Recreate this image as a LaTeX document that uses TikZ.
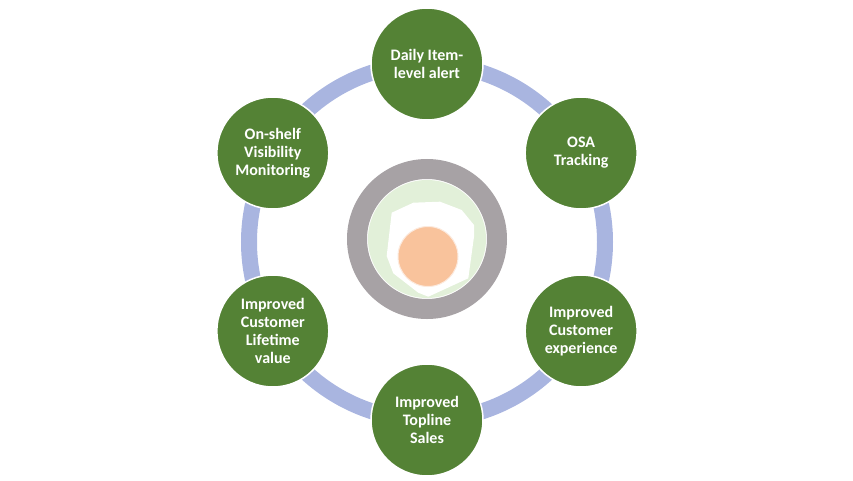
\documentclass[tikz,border=0pt]{standalone}
\usepackage{fontspec}
\setmainfont{Carlito}
\definecolor{leafgreen}{HTML}{548235}
\definecolor{ringblue}{HTML}{A9B5E0}
\definecolor{hubgray}{HTML}{A7A2A5}
\definecolor{palegreen}{HTML}{E2F0D9}
\definecolor{peach}{HTML}{F8CBAD}
\tikzset{
	stage/.style={circle, minimum size=112, inner sep=0pt, fill=leafgreen, draw=white, line width=1.5pt,
		text=white, align=center, font=\bfseries\fontsize{16}{18}\selectfont},
}
\begin{document}
\begin{tikzpicture}[x=1pt,y=1pt]
		\useasboundingbox (-427,-238) rectangle (426,242);
		\coordinate (hub) at (0,3);
		\coordinate (mid) at (0,0);
		
		% outer loop
		\draw[ringblue,line width=16pt] (mid) circle (178);
		
		% centre rings
		\draw[hubgray,line width=20pt] (hub) circle (70);
		\fill[palegreen] (hub) circle (59);
		\fill[white] (-35.3,29.3) -- (-13.7,39.3) -- (13,40.3) -- (34.7,32) -- (47,17) -- (47,5.3)
			-- (41.3,-36.3) -- (1.3,-54.7) -- (-8.7,-50.7) -- (-33.7,-31.3) -- (-40.3,-14) -- (-37.7,8.7) -- cycle;
		\draw[peach,fill=peach!90!orange,draw=peach!40!white,line width=1pt] (1,-14.5) circle (30);
		
		\foreach \a/\n/\t in {90/daily/{Daily Item-\\level alert}, 30/osa/{OSA\\Tracking},
			-30/exper/{Improved\\Customer\\experience}, -90/sales/{Improved\\Topline\\Sales},
			-150/life/{Improved\\Customer\\Lifetime\\value}, 150/shelf/{On-shelf\\Visibility\\Monitoring}}{
			\node[stage] (\n) at (\a:178) {\t};
		}
		\end{tikzpicture}
\end{document}
